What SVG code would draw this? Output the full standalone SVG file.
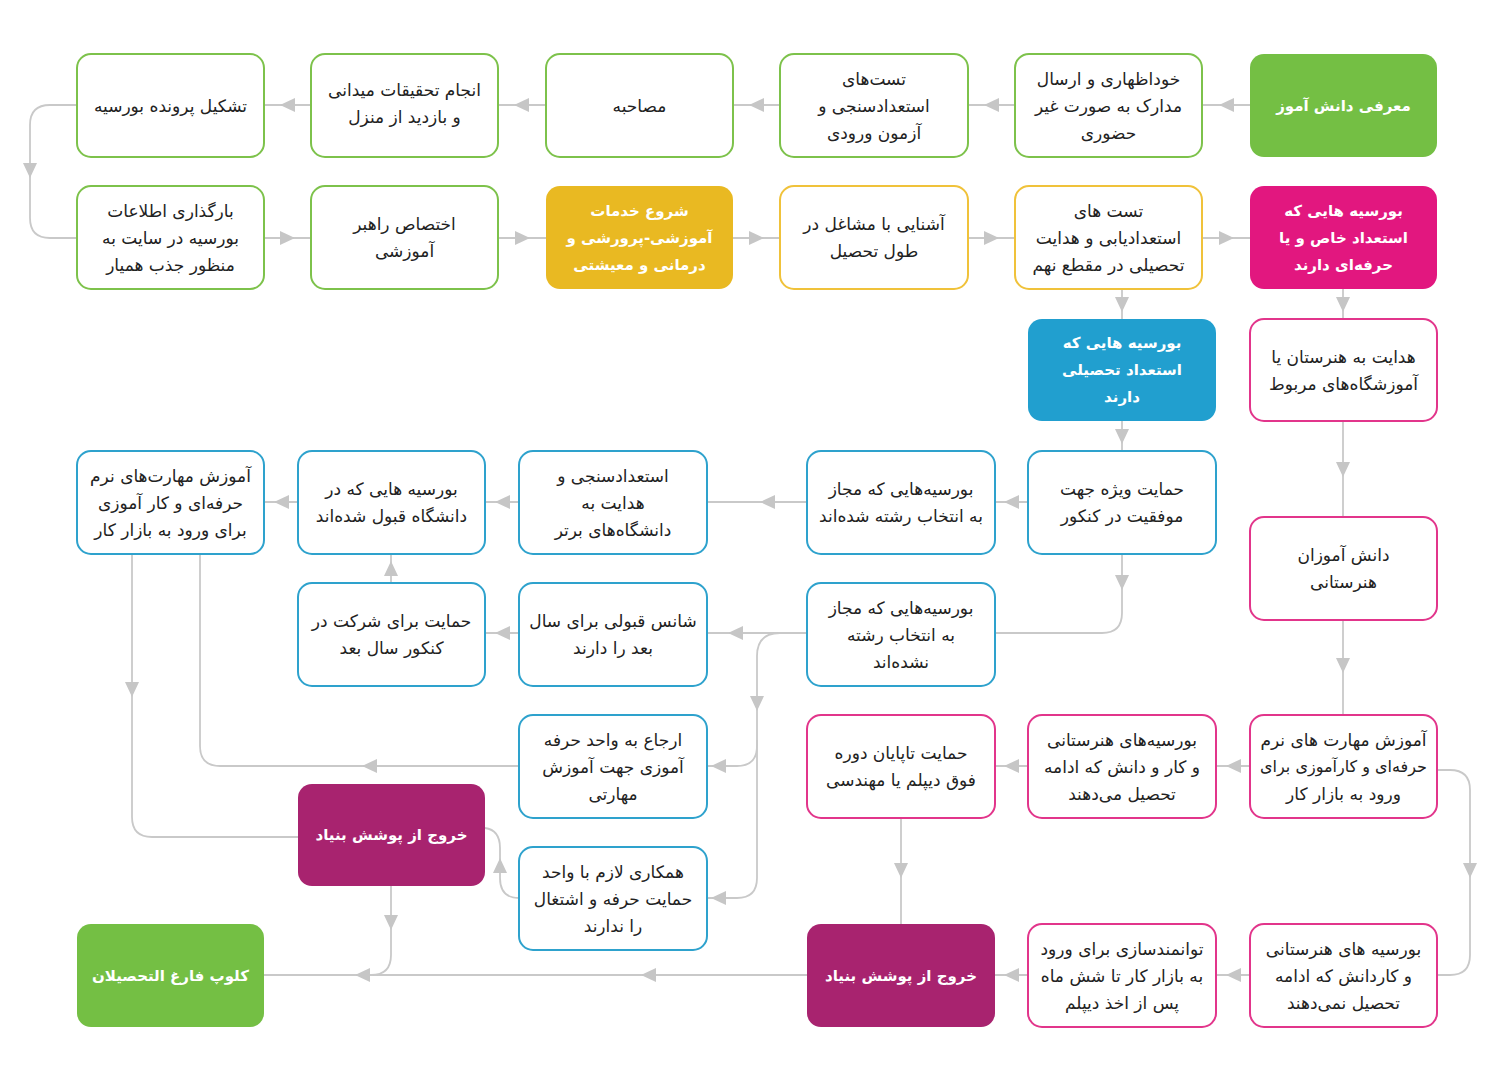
<svg xmlns="http://www.w3.org/2000/svg" width="1500" height="1081" viewBox="0 0 1500 1081">
<style>
.bg{fill:#ffffff}
.n{stroke-width:2}
.g{fill:#fff;stroke:#7dc24b}
.y{fill:#fff;stroke:#f0c23a}
.m{fill:#fff;stroke:#e2358b}
.c{fill:#fff;stroke:#2ea2cd}
.gf{fill:#74bf44}
.yf{fill:#e9b922}
.mf{fill:#e2177f}
.cf{fill:#219fcf}
.pf{fill:#a8236f}
text{font-family:'DejaVu Sans','Noto Sans',sans-serif;font-size:17px;fill:#222;text-anchor:middle;direction:rtl;dominant-baseline:central}
text.w{fill:#fff;font-weight:bold;font-size:15px}
text.s{font-size:16px}
.ln{fill:none;stroke:#c9c9c9;stroke-width:1.8}
.ah{fill:#c6c6c6}
</style>
<defs>
<path id="ar" d="M0,0 L-15,-7 L-15,7 Z"/>
</defs>
<rect class="bg" x="0" y="0" width="1500" height="1081"/>
<g id="connectors">
<g class="ln">
<path d="M1250,105 H1202 M1015,105 H968 M780,105 H733 M546,105 H498 M311,105 H264"/>
<path d="M77,105 H50 Q30,105 30,125 V218 Q30,238 50,238 H77"/>
<path d="M264,238 H311 M498,238 H546 M733,238 H780 M968,238 H1015 M1202,238 H1250"/>
<path d="M1343,289 V319 M1122,289 V319 M1122,421 V451"/>
<path d="M1028,502 H995 M807,502 H707 M519,502 H485 M298,502 H264"/>
<path d="M1122,554 V613 Q1122,633 1102,633 H995"/>
<path d="M807,633 H707"/>
<path d="M780,633 Q757,633 757,656 V746 Q757,766 737,766 H707"/>
<path d="M757,740 V878 Q757,898 737,898 H707"/>
<path d="M519,633 H485 M391,583 V554"/>
<path d="M1343,421 V517 M1343,620 V715"/>
<path d="M1250,766 H1216 M1028,766 H995"/>
<path d="M1437,770 H1450 Q1470,770 1470,790 V955 Q1470,975 1450,975 H1437"/>
<path d="M1250,975 H1216 M1028,975 H995 M807,975 H264"/>
<path d="M901,818 V924"/>
<path d="M519,766 H220 Q200,766 200,746 V554"/>
<path d="M132,554 V817 Q132,837 152,837 H298"/>
<path d="M391,886 V955 Q391,975 371,975"/>
<path d="M519,898 Q500,898 500,878 V848 Q500,830 485,828"/>
</g>
<g class="ah">
<use href="#ar" transform="translate(1219,105) rotate(180)"/>
<use href="#ar" transform="translate(984,105) rotate(180)"/>
<use href="#ar" transform="translate(749,105) rotate(180)"/>
<use href="#ar" transform="translate(514,105) rotate(180)"/>
<use href="#ar" transform="translate(280,105) rotate(180)"/>
<use href="#ar" transform="translate(30,178) rotate(90)"/>
<use href="#ar" transform="translate(295,238)"/>
<use href="#ar" transform="translate(530,238)"/>
<use href="#ar" transform="translate(764,238)"/>
<use href="#ar" transform="translate(999,238)"/>
<use href="#ar" transform="translate(1234,238)"/>
<use href="#ar" transform="translate(1343,312) rotate(90)"/>
<use href="#ar" transform="translate(1122,312) rotate(90)"/>
<use href="#ar" transform="translate(1122,444) rotate(90)"/>
<use href="#ar" transform="translate(1004,502) rotate(180)"/>
<use href="#ar" transform="translate(760,502) rotate(180)"/>
<use href="#ar" transform="translate(495,502) rotate(180)"/>
<use href="#ar" transform="translate(274,502) rotate(180)"/>
<use href="#ar" transform="translate(1122,590) rotate(90)"/>
<use href="#ar" transform="translate(728,633) rotate(180)"/>
<use href="#ar" transform="translate(757,711) rotate(90)"/>
<use href="#ar" transform="translate(711,766) rotate(180)"/>
<use href="#ar" transform="translate(711,898) rotate(180)"/>
<use href="#ar" transform="translate(495,633) rotate(180)"/>
<use href="#ar" transform="translate(391,561) rotate(-90)"/>
<use href="#ar" transform="translate(362,766) rotate(180)"/>
<use href="#ar" transform="translate(132,697) rotate(90)"/>
<use href="#ar" transform="translate(500,858) rotate(-90)"/>
<use href="#ar" transform="translate(391,930) rotate(90)"/>
<use href="#ar" transform="translate(355,975) rotate(180)"/>
<use href="#ar" transform="translate(641,975) rotate(180)"/>
<use href="#ar" transform="translate(1343,477) rotate(90)"/>
<use href="#ar" transform="translate(1343,673) rotate(90)"/>
<use href="#ar" transform="translate(1226,766) rotate(180)"/>
<use href="#ar" transform="translate(1004,766) rotate(180)"/>
<use href="#ar" transform="translate(1470,878) rotate(90)"/>
<use href="#ar" transform="translate(901,878) rotate(90)"/>
<use href="#ar" transform="translate(1226,975) rotate(180)"/>
<use href="#ar" transform="translate(1004,975) rotate(180)"/>
</g>
</g>

<g id="n-moarefi"><rect class="gf" x="1250" y="54" width="187" height="103" rx="14"/><text class="w" x="1343.5" y="105.5">معرفی دانش آموز</text></g>
<g id="n-khodezhari"><rect class="n g" x="1015" y="54" width="187" height="103" rx="14"/><text x="1108.5" y="78.5">خوداظهاری و ارسال</text><text x="1108.5" y="105.5">مدارک به صورت غیر</text><text x="1108.5" y="132.5">حضوری</text></g>
<g id="n-test-vorudi"><rect class="n g" x="780" y="54" width="188" height="103" rx="14"/><text x="874" y="78.5">تست&#8204;های</text><text x="874" y="105.5">استعدادسنجی و</text><text x="874" y="132.5">آزمون ورودی</text></g>
<g id="n-mosahebe"><rect class="n g" x="546" y="54" width="187" height="103" rx="14"/><text x="639.5" y="105.5">مصاحبه</text></g>
<g id="n-tahghighat"><rect class="n g" x="311" y="54" width="187" height="103" rx="14"/><text x="404.5" y="90">انجام تحقیقات میدانی</text><text x="404.5" y="117">و بازدید از منزل</text></g>
<g id="n-parvande"><rect class="n g" x="77" y="54" width="187" height="103" rx="14"/><text x="170.5" y="105.5">تشکیل پرونده بورسیه</text></g>

<g id="n-bargozari"><rect class="n g" x="77" y="186" width="187" height="103" rx="14"/><text x="170.5" y="210.5">بارگذاری اطلاعات</text><text x="170.5" y="237.5">بورسیه در سایت به</text><text x="170.5" y="264.5">منظور جذب همیار</text></g>
<g id="n-rahbar"><rect class="n g" x="311" y="186" width="187" height="103" rx="14"/><text x="404.5" y="224">اختصاص راهبر</text><text x="404.5" y="251">آموزشی</text></g>
<g id="n-shoru"><rect class="yf" x="546" y="186" width="187" height="103" rx="14"/><text class="w" x="639.5" y="210.5">شروع خدمات</text><text class="w" x="639.5" y="237.5">آموزشی-پرورشی و</text><text class="w" x="639.5" y="264.5">درمانی و معیشتی</text></g>
<g id="n-ashnayi"><rect class="n y" x="780" y="186" width="188" height="103" rx="14"/><text x="874" y="224">آشنایی با مشاغل در</text><text x="874" y="251">طول تحصیل</text></g>
<g id="n-test-nohom"><rect class="n y" x="1015" y="186" width="187" height="103" rx="14"/><text x="1108.5" y="210.5">تست های</text><text x="1108.5" y="237.5">استعدادیابی و هدایت</text><text x="1108.5" y="264.5">تحصیلی در مقطع نهم</text></g>
<g id="n-estedad-khas"><rect class="mf" x="1250" y="186" width="187" height="103" rx="14"/><text class="w" x="1343.5" y="210.5">بورسیه هایی که</text><text class="w" x="1343.5" y="237.5">استعداد خاص و یا</text><text class="w" x="1343.5" y="264.5">حرفه&#8204;ای دارند</text></g>

<g id="n-estedad-tahsili"><rect class="cf" x="1028" y="319" width="188" height="102" rx="14"/><text class="w" x="1122" y="343">بورسیه هایی که</text><text class="w" x="1122" y="370">استعداد تحصیلی</text><text class="w" x="1122" y="397">دارند</text></g>
<g id="n-honarestan"><rect class="n m" x="1250" y="319" width="187" height="102" rx="14"/><text x="1343.5" y="356.5">هدایت به هنرستان یا</text><text x="1343.5" y="383.5">آموزشگاه&#8204;های مربوط</text></g>

<g id="n-konkur"><rect class="n c" x="1028" y="451" width="188" height="103" rx="14"/><text x="1122" y="489">حمایت ویژه جهت</text><text x="1122" y="516">موفقیت در کنکور</text></g>
<g id="n-mojaz"><rect class="n c" x="807" y="451" width="188" height="103" rx="14"/><text x="901" y="489">بورسیه&#8204;هایی که مجاز</text><text x="901" y="516">به انتخاب رشته شده&#8204;اند</text></g>
<g id="n-daneshgah-bartar"><rect class="n c" x="519" y="451" width="188" height="103" rx="14"/><text x="613" y="475.5">استعدادسنجی و</text><text x="613" y="502.5">هدایت به</text><text x="613" y="529.5">دانشگاه&#8204;های برتر</text></g>
<g id="n-ghabul"><rect class="n c" x="298" y="451" width="187" height="103" rx="14"/><text x="391.5" y="489">بورسیه هایی که در</text><text x="391.5" y="516">دانشگاه قبول شده&#8204;اند</text></g>
<g id="n-maharat-1"><rect class="n c" x="77" y="451" width="187" height="103" rx="14"/><text x="170.5" y="475.5">آموزش مهارت&#8204;های نرم</text><text x="170.5" y="502.5">حرفه&#8204;ای و کار آموزی</text><text x="170.5" y="529.5">برای ورود به بازار کار</text></g>

<g id="n-honarestani"><rect class="n m" x="1250" y="517" width="187" height="103" rx="14"/><text x="1343.5" y="555">دانش آموزان</text><text x="1343.5" y="582">هنرستانی</text></g>

<g id="n-nashode"><rect class="n c" x="807" y="583" width="188" height="103" rx="14"/><text x="901" y="607.5">بورسیه&#8204;هایی که مجاز</text><text x="901" y="634.5">به انتخاب رشته</text><text x="901" y="661.5">نشده&#8204;اند</text></g>
<g id="n-shans"><rect class="n c" x="519" y="583" width="188" height="103" rx="14"/><text x="613" y="621">شانس قبولی برای سال</text><text x="613" y="648">بعد را دارند</text></g>
<g id="n-sharkat"><rect class="n c" x="298" y="583" width="187" height="103" rx="14"/><text x="391.5" y="621">حمایت برای شرکت در</text><text x="391.5" y="648">کنکور سال بعد</text></g>

<g id="n-maharat-2"><rect class="n m" x="1250" y="715" width="187" height="103" rx="14"/><text x="1343.5" y="739.5">آموزش مهارت های نرم</text><text class="s" x="1343.5" y="766.5">حرفه&#8204;ای و کارآموزی برای</text><text x="1343.5" y="793.5">ورود به بازار کار</text></g>
<g id="n-edame"><rect class="n m" x="1028" y="715" width="188" height="103" rx="14"/><text x="1122" y="739.5">بورسیه&#8204;های هنرستانی</text><text x="1122" y="766.5">و کار و دانش که ادامه</text><text x="1122" y="793.5">تحصیل می&#8204;دهند</text></g>
<g id="n-fogh-diplom"><rect class="n m" x="807" y="715" width="188" height="103" rx="14"/><text x="901" y="753">حمایت تاپایان دوره</text><text x="901" y="780">فوق دیپلم یا مهندسی</text></g>
<g id="n-erja"><rect class="n c" x="519" y="715" width="188" height="103" rx="14"/><text x="613" y="739.5">ارجاع به واحد حرفه</text><text x="613" y="766.5">آموزی جهت آموزش</text><text x="613" y="793.5">مهارتی</text></g>
<g id="n-khoruj-1"><rect class="pf" x="298" y="784" width="187" height="102" rx="14"/><text class="w" x="391.5" y="835">خروج از پوشش بنیاد</text></g>
<g id="n-hamkari"><rect class="n c" x="519" y="847" width="188" height="103" rx="14"/><text x="613" y="871.5">همکاری لازم با واحد</text><text x="613" y="898.5">حمایت حرفه و اشتغال</text><text x="613" y="925.5">را ندارند</text></g>

<g id="n-club"><rect class="gf" x="77" y="924" width="187" height="103" rx="14"/><text class="w" x="170.5" y="975.5">کلوپ فارغ التحصیلان</text></g>
<g id="n-khoruj-2"><rect class="pf" x="807" y="924" width="188" height="103" rx="14"/><text class="w" x="901" y="975.5">خروج از پوشش بنیاد</text></g>
<g id="n-tavanmandsazi"><rect class="n m" x="1028" y="924" width="188" height="103" rx="14"/><text x="1122" y="948.5">توانمندسازی برای ورود</text><text x="1122" y="975.5">به بازار کار تا شش ماه</text><text x="1122" y="1002.5">پس از اخذ دیپلم</text></g>
<g id="n-kardanesh"><rect class="n m" x="1250" y="924" width="187" height="103" rx="14"/><text x="1343.5" y="948.5">بورسیه های هنرستانی</text><text x="1343.5" y="975.5">و کاردانش که ادامه</text><text x="1343.5" y="1002.5">تحصیل نمی&#8204;دهند</text></g>
</svg>
